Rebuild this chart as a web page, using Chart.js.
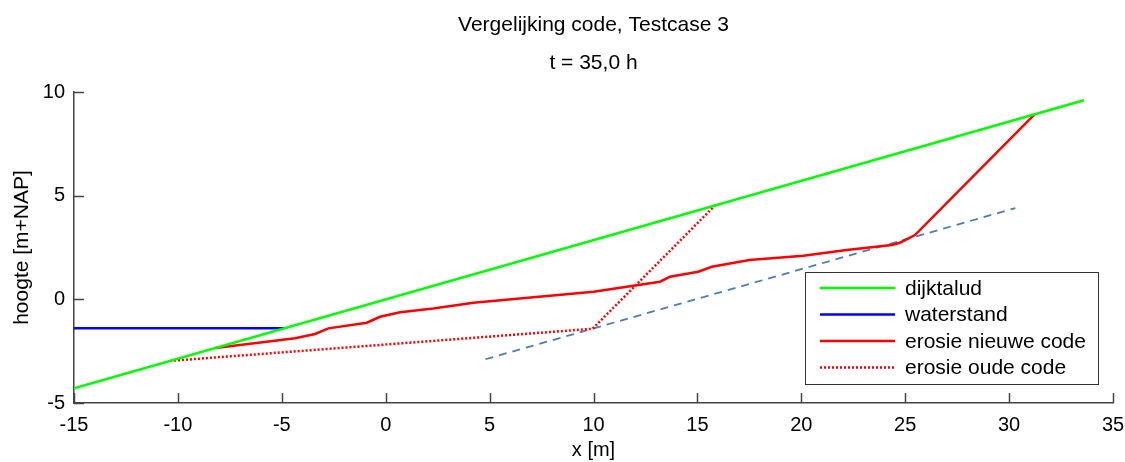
<!DOCTYPE html>
<html>
<head>
<meta charset="utf-8">
<script src="https://cdn.jsdelivr.net/npm/chart.js@4.4.1/dist/chart.umd.min.js"></script>
<style>
  html, body { margin: 0; padding: 0; background: #fff; }
  #wrap { width: 1125px; height: 462px; position: relative; }
</style>
</head>
<body>
<div id="wrap"><canvas id="chart"></canvas></div>
<script>
// series data
const dijkX = [-15, 33.6];
const dijkY = [-4.29, 9.6];

const waterX = [-15, -4.9];
const waterY = [-1.4, -1.4];

const nieuwX = [-8.2, -4.36, -3.4, -2.76, -0.91, -0.27, 0.69, 2.29, 4.22, 10.0, 13.2, 13.68, 15.04, 15.69, 17.5, 20.1, 22.18, 24.35, 24.75, 25.47, 31.2];
const nieuwY = [-2.35, -1.88, -1.67, -1.4, -1.13, -0.84, -0.62, -0.44, -0.16, 0.37, 0.85, 1.09, 1.33, 1.57, 1.9, 2.1, 2.38, 2.62, 2.73, 3.1, 8.9];

const oudX = [-10.38, 9.95, 15.85];
const oudY = [-2.97, -1.42, 4.53];

const hulpX = [4.8, 30.3];
const hulpY = [-2.89, 4.4];

const xTicks = [-15, -10, -5, 0, 5, 10, 15, 20, 25, 30, 35];
const yTicks = [-5, 0, 5, 10];

const titleLines = ['Vergelijking code, Testcase 3', 't = 35,0 h'];

function zip(xs, ys) {
    return xs.map((x, i) => ({ x: x, y: ys[i] }));
}

const FONT = 'Arial, "Liberation Sans", sans-serif';

// titles, inward tick marks and legend box (matlab look)
const extras = {
    id: 'extras',
    afterDraw(chart) {
        const ctx = chart.ctx;
        const area = chart.chartArea;
        const xs = chart.scales.x;
        const ys = chart.scales.y;
        const mid = (area.left + area.right) / 2;

        ctx.save();
        ctx.fillStyle = '#000';
        ctx.font = '21px ' + FONT;
        ctx.textAlign = 'center';
        ctx.textBaseline = 'middle';
        ctx.fillText(titleLines[0], mid, 25);
        ctx.fillText(titleLines[1], mid, 63);

        // tick marks pointing inward
        ctx.strokeStyle = '#444';
        ctx.lineWidth = 1.5;
        ctx.beginPath();
        xTicks.forEach(v => {
            const px = Math.round(xs.getPixelForValue(v)) + 0.5;
            ctx.moveTo(px, area.bottom);
            ctx.lineTo(px, area.bottom - 10);
        });
        yTicks.forEach(v => {
            const py = Math.round(ys.getPixelForValue(v)) + 0.5;
            ctx.moveTo(area.left, py);
            ctx.lineTo(area.left + 10, py);
        });
        ctx.stroke();

        // legend
        const box = { left: 805, top: 272, right: 1098, bottom: 384 };
        ctx.fillStyle = '#fff';
        ctx.fillRect(box.left, box.top, box.right - box.left, box.bottom - box.top);
        ctx.strokeStyle = '#333';
        ctx.lineWidth = 1;
        ctx.strokeRect(box.left + 0.5, box.top + 0.5, box.right - box.left, box.bottom - box.top);
        ctx.font = '21px ' + FONT;
        ctx.textAlign = 'left';
        const rows = chart.data.datasets.filter(d => d.inLegend);
        rows.forEach((d, i) => {
            const y = box.top + 16 + i * 26.5;
            ctx.strokeStyle = d.borderColor;
            ctx.lineWidth = d.borderWidth;
            ctx.setLineDash(d.borderDash || []);
            ctx.beginPath();
            ctx.moveTo(820, y);
            ctx.lineTo(895, y);
            ctx.stroke();
            ctx.setLineDash([]);
            ctx.fillStyle = '#000';
            ctx.fillText(d.label, 905, y + 1);
        });
        ctx.restore();
    }
};

const lineStyle = { showLine: true, pointRadius: 0, fill: false, tension: 0 };

new Chart(document.getElementById('chart'), {
    type: 'scatter',
    data: {
        datasets: [
            Object.assign({ label: 'dijktalud', data: zip(dijkX, dijkY), borderColor: '#00ff00', borderWidth: 2.5, inLegend: true }, lineStyle),
            Object.assign({ label: 'waterstand', data: zip(waterX, waterY), borderColor: '#0000ff', borderWidth: 2.5, inLegend: true }, lineStyle),
            Object.assign({ label: 'erosie nieuwe code', data: zip(nieuwX, nieuwY), borderColor: '#ff0000', borderWidth: 2.5, inLegend: true }, lineStyle),
            Object.assign({ label: 'erosie oude code', data: zip(oudX, oudY), borderColor: '#ff0000', borderWidth: 2.5, borderDash: [2, 2], inLegend: true }, lineStyle),
            Object.assign({ label: 'hulplijn', data: zip(hulpX, hulpY), borderColor: '#4a7ebb', borderWidth: 1.8, borderDash: [8, 6], inLegend: false }, lineStyle)
        ]
    },
    options: {
        responsive: true,
        maintainAspectRatio: false,
        animation: false,
        layout: { padding: { top: 92, right: 12, left: 0, bottom: 0 } },
        plugins: {
            legend: { display: false },
            title: { display: false },
            tooltip: { enabled: false }
        },
        scales: {
            x: {
                type: 'linear',
                min: -15,
                max: 35,
                afterBuildTicks: s => { s.ticks = xTicks.map(v => ({ value: v })); },
                afterFit: s => { s.height = 59; s.paddingLeft = 0; s.paddingRight = 0; },
                grid: { display: false, drawTicks: false },
                border: { display: true, color: '#444', width: 1.5 },
                ticks: { color: '#000', font: { size: 20, family: FONT }, padding: 10, maxRotation: 0 },
                title: { display: true, text: 'x [m]', color: '#000', font: { size: 20, family: FONT }, padding: { top: 3, bottom: 0 } }
            },
            y: {
                type: 'linear',
                min: -5,
                max: 10,
                afterBuildTicks: s => { s.ticks = yTicks.map(v => ({ value: v })); },
                afterFit: s => { s.width = 74; },
                grid: { display: false, drawTicks: false },
                border: { display: true, color: '#444', width: 1.5 },
                ticks: { color: '#000', font: { size: 20, family: FONT }, padding: 9 },
                title: { display: true, text: 'hoogte [m+NAP]', color: '#000', font: { size: 21, family: FONT }, padding: { top: 10, bottom: 4 } }
            }
        }
    },
    plugins: [extras]
});
</script>
</body>
</html>
